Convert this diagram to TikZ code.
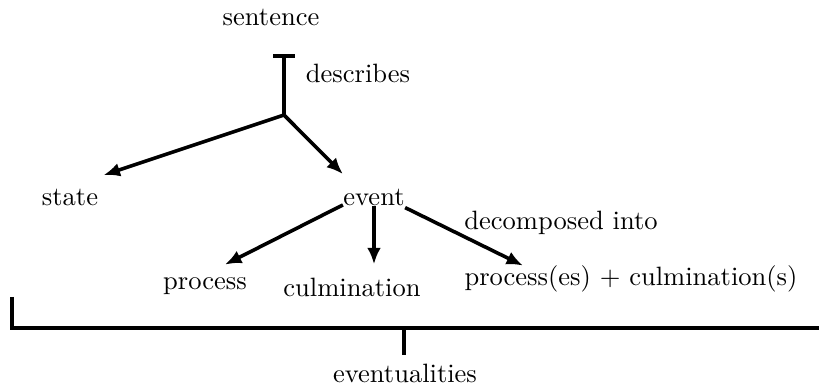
\documentclass[tikz,border=0pt]{standalone}
\usepackage{amsmath,amssymb}
\usetikzlibrary{arrows.meta}
\usetikzlibrary{positioning}

\begin{document}
\begin{tikzpicture}[x=0.377pt,y=-0.377pt]
			\tikzstyle{every node}+=[inner sep=0pt,anchor=base]
			\tikzstyle{link}=[line width=1.35pt,-{Latex[length=6.2pt,width=5.2pt]}]
			\tikzstyle{stem}=[line width=1.35pt]
			\useasboundingbox (0,0) rectangle (819,389);
			\node (sentence) at (271,26) {sentence};
			\node (describes) at (358,83) {describes};
			\node (state) at (70,206) {state};
			\node (event) at (374,206) {event};
			\node (decomp) at (561,230) {decomposed into};
			\node (process) at (205,290) {process};
			\node (culm) at (352,297) {culmination};
			\node (both) at (631,286) {process(es) + culmination(s)};
			\node (eventual) at (405,383) {eventualities};
			\coordinate (bar) at (284,56);
			\coordinate (split) at (284,115);
			\coordinate (brackL) at (12,297);
			\coordinate (brackM) at (404,328);
			\draw [stem] (bar) ++(-11,0) -- ++(22,0);
			\draw [stem] (bar) -- (split);
			\draw [link] (split) -- ([shift={(5,-14)}]state.north east);
			\draw [link] (split) -- ([shift={(0,-15)}]event.north west);
			\draw [link] ([yshift=0.4pt]event.base west) -- ([shift={(20,-13)}]process.north);
			\draw [link] (event.base) -- ([yshift=5.2pt]event.base |- culm.north);
			\draw [link] ([yshift=-0.6pt]event.base east) -- ([shift={(59,0)}]both.north west);
			\draw [stem] (brackL) -- (brackL |- brackM) -- (819,328);
			\draw [stem] (brackM) -- ([yshift=3.4pt]eventual.north -| brackM);
\end{tikzpicture}
\end{document}
